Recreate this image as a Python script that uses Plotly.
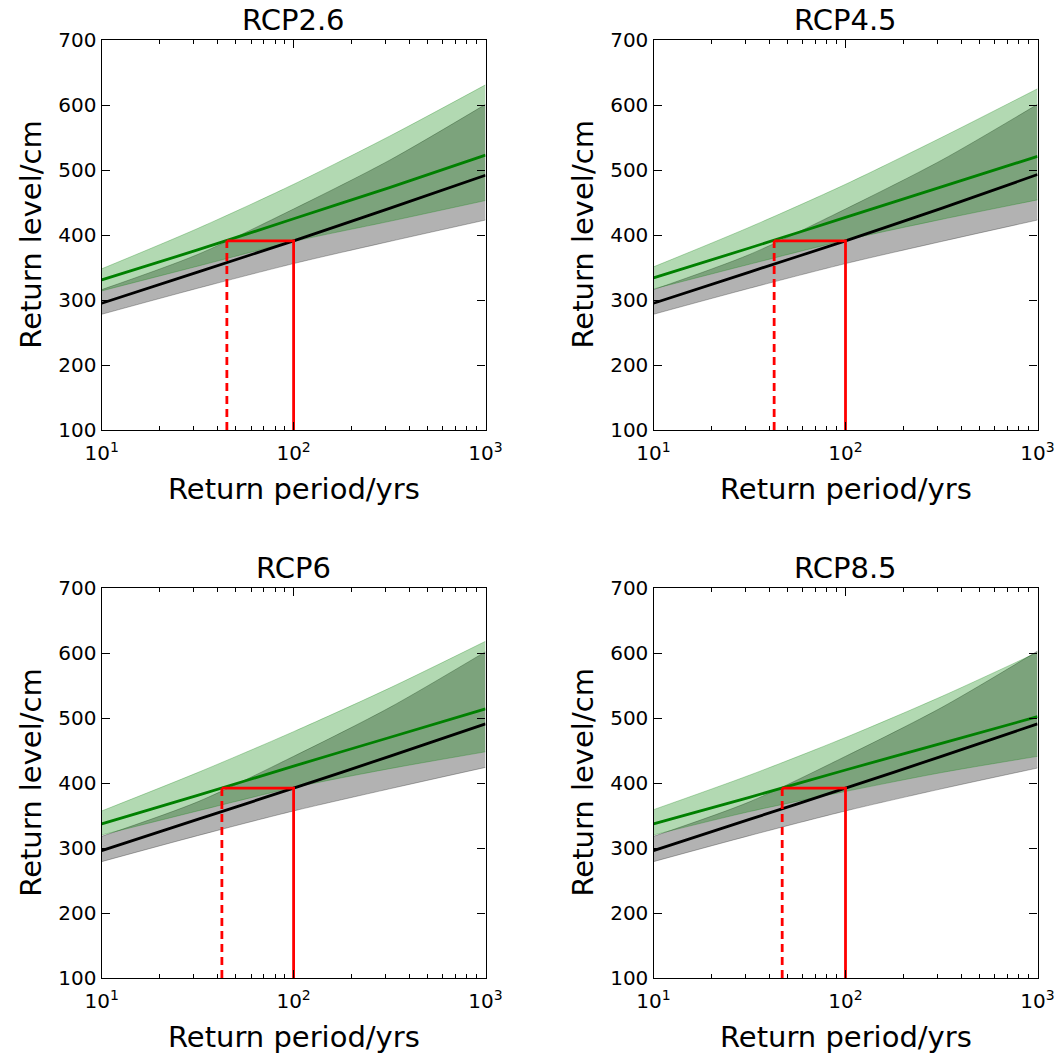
import plotly.graph_objects as go

# Return periods (years) at which the return levels are evaluated
periods = [10, 31.6, 100, 316, 1000]

scenarios = ["RCP2.6", "RCP4.5", "RCP6", "RCP8.5"]

# Present-day return level (cm) and its confidence band
hist_level = [
    [295, 343, 391, 441, 492],
    [295, 343, 391, 441, 493],
    [296, 344, 392, 441, 491],
    [296, 344, 392, 441, 491],
]
hist_lower = [
    [278, 318, 356, 390, 423],
    [278, 318, 356, 390, 423],
    [279, 319, 357, 391, 424],
    [279, 319, 357, 391, 423],
]
hist_upper = [
    [316, 370, 440, 515, 601],
    [316, 370, 440, 515, 601],
    [318, 371, 441, 516, 602],
    [318, 371, 441, 516, 603],
]

# Future return level (cm) under each scenario and its confidence band
future_level = [
    [331, 377, 425, 473, 523],
    [334, 380, 427, 474, 521],
    [337, 381, 426, 470, 514],
    [337, 378, 420, 461, 502],
]
future_lower = [
    [314, 352, 390, 421, 453],
    [317, 355, 392, 424, 454],
    [320, 357, 393, 422, 448],
    [320, 356, 387, 416, 441],
]
future_upper = [
    [348, 410, 478, 552, 631],
    [351, 412, 478, 550, 625],
    [357, 416, 479, 546, 618],
    [359, 412, 470, 533, 601],
]

# Present-day 100-year level and the future period at which it is reached
reference_period = 100
level_100yr = [391, 391, 392, 392]
future_period = [44.9, 42.5, 42.3, 46.8]

y_range = [100, 700]

W, H = 1063, 1054
col_x = [(101.7, 485.5), (653.5, 1037.5)]
row_y = [(40, 430), (588, 978)]

FONT = "DejaVu Sans"
fig = go.Figure()

minor_vals = [v * 10 ** e for e in (1, 2) for v in range(2, 10)]


def band_edge(y, rgba, xa, ya, fill=None, fillcolor=None):
    return go.Scatter(x=periods, y=y, mode="lines",
                      line=dict(color=rgba, width=0.8, shape="spline", smoothing=0.8),
                      fill=fill, fillcolor=fillcolor,
                      showlegend=False, xaxis=xa, yaxis=ya, hoverinfo="skip")


for i, name in enumerate(scenarios):
    r, c = divmod(i, 2)
    xa = "x" if i == 0 else f"x{i + 1}"
    ya = "y" if i == 0 else f"y{i + 1}"

    # grey band (present day)
    fig.add_trace(band_edge(hist_lower[i], "rgba(0,0,0,0.35)", xa, ya))
    fig.add_trace(band_edge(hist_upper[i], "rgba(0,0,0,0.35)", xa, ya,
                            "tonexty", "rgba(0,0,0,0.3)"))
    # green band (scenario)
    fig.add_trace(band_edge(future_lower[i], "rgba(0,128,0,0.35)", xa, ya))
    fig.add_trace(band_edge(future_upper[i], "rgba(0,128,0,0.35)", xa, ya,
                            "tonexty", "rgba(0,128,0,0.3)"))
    # central estimates
    fig.add_trace(go.Scatter(x=periods, y=hist_level[i], mode="lines",
                             line=dict(color="black", width=2.8, shape="spline", smoothing=0.8),
                             showlegend=False, xaxis=xa, yaxis=ya))
    fig.add_trace(go.Scatter(x=periods, y=future_level[i], mode="lines",
                             line=dict(color="green", width=2.8, shape="spline", smoothing=0.8),
                             showlegend=False, xaxis=xa, yaxis=ya))
    # red guide lines: present 100-yr level and equivalent future period
    lvl = level_100yr[i]
    fp = future_period[i]
    fig.add_trace(go.Scatter(x=[reference_period, reference_period, fp],
                             y=[y_range[0], lvl, lvl], mode="lines",
                             line=dict(color="red", width=2.8),
                             showlegend=False, xaxis=xa, yaxis=ya))
    fig.add_trace(go.Scatter(x=[fp, fp], y=[y_range[0], lvl], mode="lines",
                             line=dict(color="red", width=2.8, dash="8px,5px"),
                             showlegend=False, xaxis=xa, yaxis=ya))

    x0, x1 = col_x[c]
    y0, y1 = row_y[r]
    common = dict(showline=True, linecolor="black", linewidth=1.3, mirror="allticks",
                  ticks="inside", ticklen=8, tickwidth=1.2, tickcolor="black",
                  showgrid=False, zeroline=False, automargin=False,
                  tickfont=dict(family=FONT, size=20, color="black"))
    fig.layout[f"xaxis{'' if i == 0 else i + 1}"] = dict(
        type="log", range=[1, 3], domain=[x0 / W, x1 / W], anchor=ya,
        tickvals=[10, 100, 1000],
        ticktext=["10<sup>1</sup>", "10<sup>2</sup>", "10<sup>3</sup>"],
        ticklabelstandoff=5,
        minor=dict(ticks="inside", ticklen=4, tickvals=minor_vals,
                   tickcolor="black", tickwidth=1),
        **common)
    fig.layout[f"yaxis{'' if i == 0 else i + 1}"] = dict(
        range=y_range, domain=[1 - y1 / H, 1 - y0 / H], anchor=xa,
        tickvals=list(range(100, 701, 100)), **common)

    cx = (x0 + x1) / 2
    text_font = dict(family=FONT, size=29, color="black")
    fig.add_annotation(text=name, x=cx / W, y=1 - (y0 - 20) / H,
                       xref="paper", yref="paper", xanchor="center", yanchor="middle",
                       showarrow=False, font=text_font)
    fig.add_annotation(text="Return period/yrs", x=cx / W, y=1 - (y1 + 59) / H,
                       xref="paper", yref="paper", xanchor="center", yanchor="middle",
                       showarrow=False, font=text_font)
    fig.add_annotation(text="Return level/cm", x=(x0 - 71) / W, y=1 - ((y0 + y1) / 2) / H,
                       xref="paper", yref="paper", xanchor="center", yanchor="middle",
                       showarrow=False, textangle=-90, font=text_font)

fig.update_layout(width=W, height=H, margin=dict(l=0, r=0, t=0, b=0, autoexpand=False),
                  paper_bgcolor="white", plot_bgcolor="white", showlegend=False)

fig.write_html("out.html")
